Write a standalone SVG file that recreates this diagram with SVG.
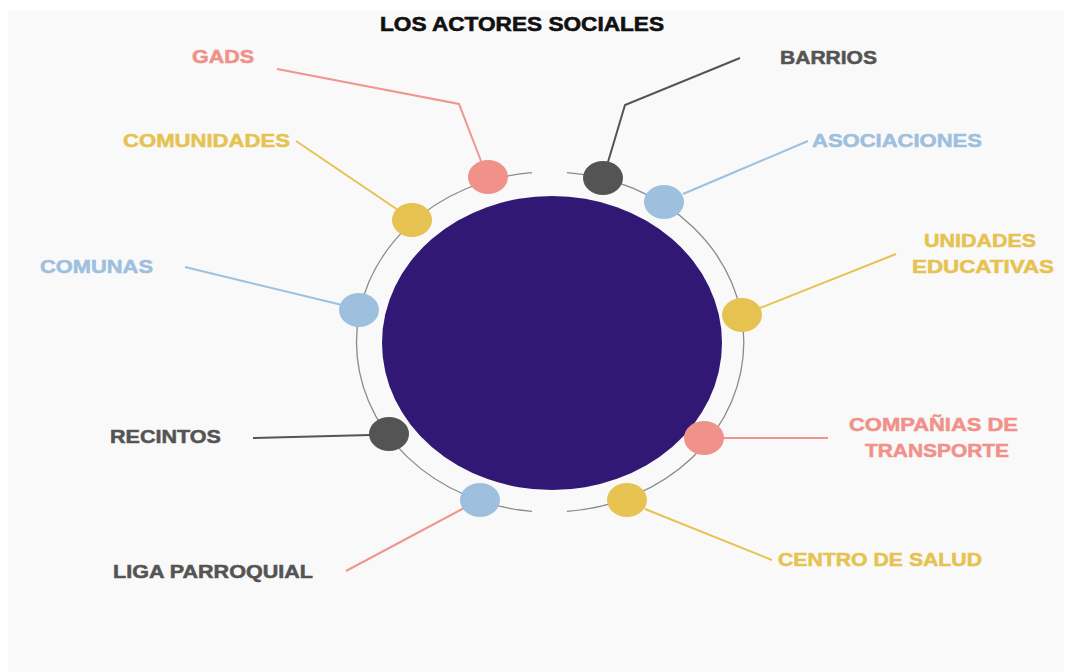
<svg xmlns="http://www.w3.org/2000/svg" width="1080" height="672" viewBox="0 0 1080 672">
<style>
.lbl{font-family:"Liberation Sans",Arial,sans-serif;font-weight:700;font-size:18px;stroke-width:0.5;}
.title{font-family:"Liberation Sans",Arial,sans-serif;font-weight:700;font-size:19.5px;fill:#111;stroke:#111;stroke-width:0.6;}
.pink{fill:#f0918a;}
.yellow{fill:#e6c350;}
.blue{fill:#9dc0de;}
.dark{fill:#545454;}
text.pink{stroke:#f0918a;}
text.yellow{stroke:#e6c350;}
text.blue{stroke:#9dc0de;}
text.dark{stroke:#545454;}
.ln{fill:none;stroke-width:2;}
.lpink{stroke:#f0958e;}
.lyellow{stroke:#e6c350;}
.lblue{stroke:#9dc0de;}
.ldark{stroke:#545454;}
.ring{fill:none;stroke:#8a8a8a;stroke-width:1.3;}
</style>
<rect width="1080" height="672" fill="#ffffff"/>
<rect x="8" y="10" width="1056" height="662" fill="#f9f9f9"/>
<text class="title" x="380" y="31" textLength="284" lengthAdjust="spacingAndGlyphs">LOS ACTORES SOCIALES</text>
<g id="connectors">
<polyline class="ln lpink" points="277,69 459,104 481,161"/>
<polyline class="ln ldark" points="740,58 625,105 608,162"/>
<line class="ln lblue" x1="683" y1="194" x2="808" y2="141"/>
<line class="ln lyellow" x1="296" y1="141" x2="398" y2="210"/>
<line class="ln lblue" x1="185" y1="267" x2="342" y2="305"/>
<line class="ln lyellow" x1="760" y1="308" x2="896" y2="254"/>
<line class="ln ldark" x1="253" y1="438" x2="370" y2="435"/>
<line class="ln lpink" x1="346" y1="571" x2="464" y2="508"/>
<line class="ln lpink" x1="723" y1="438" x2="828" y2="438"/>
<line class="ln lyellow" x1="645" y1="509" x2="772" y2="560"/>
</g>
<g id="ring">
<path class="ring" d="M532,172.7 A193,170 0 0 0 532,511.3"/>
<path class="ring" d="M567,172.6 A193,170 0 0 1 567,511.4"/>
</g>
<g id="center"><ellipse cx="552" cy="343" rx="170" ry="147" fill="#311874"/></g>
<g id="gads"><ellipse class="pink" cx="488" cy="177" rx="20" ry="17"/><text class="lbl pink" x="192" y="63" textLength="62" lengthAdjust="spacingAndGlyphs">GADS</text></g>
<g id="barrios"><ellipse class="dark" cx="603" cy="178" rx="20" ry="17"/><text class="lbl dark" x="780" y="63.5" textLength="97" lengthAdjust="spacingAndGlyphs">BARRIOS</text></g>
<g id="asociaciones"><ellipse class="blue" cx="664" cy="202" rx="20" ry="17"/><text class="lbl blue" x="812" y="147" textLength="170" lengthAdjust="spacingAndGlyphs">ASOCIACIONES</text></g>
<g id="comunidades"><ellipse class="yellow" cx="412" cy="220" rx="20" ry="17"/><text class="lbl yellow" x="123" y="147" textLength="167" lengthAdjust="spacingAndGlyphs">COMUNIDADES</text></g>
<g id="comunas"><ellipse class="blue" cx="359" cy="310" rx="20" ry="17"/><text class="lbl blue" x="40" y="273" textLength="113" lengthAdjust="spacingAndGlyphs">COMUNAS</text></g>
<g id="unidades"><ellipse class="yellow" cx="742" cy="315" rx="20" ry="17"/><text class="lbl yellow" x="924" y="247" textLength="112" lengthAdjust="spacingAndGlyphs">UNIDADES</text><text class="lbl yellow" x="912" y="273" textLength="142" lengthAdjust="spacingAndGlyphs">EDUCATIVAS</text></g>
<g id="recintos"><ellipse class="dark" cx="389" cy="434" rx="20" ry="17"/><text class="lbl dark" x="110" y="443" textLength="111" lengthAdjust="spacingAndGlyphs">RECINTOS</text></g>
<g id="liga"><ellipse class="blue" cx="480" cy="500" rx="20" ry="17"/><text class="lbl dark" x="113" y="578" textLength="200" lengthAdjust="spacingAndGlyphs">LIGA PARROQUIAL</text></g>
<g id="companias"><ellipse class="pink" cx="704" cy="438" rx="20" ry="17"/><text class="lbl pink" x="849" y="431" textLength="169" lengthAdjust="spacingAndGlyphs">COMPAÑIAS DE</text><text class="lbl pink" x="865" y="457" textLength="144" lengthAdjust="spacingAndGlyphs">TRANSPORTE</text></g>
<g id="centro"><ellipse class="yellow" cx="627" cy="500" rx="20" ry="17"/><text class="lbl yellow" x="778" y="566" textLength="204" lengthAdjust="spacingAndGlyphs">CENTRO DE SALUD</text></g>
</svg>
